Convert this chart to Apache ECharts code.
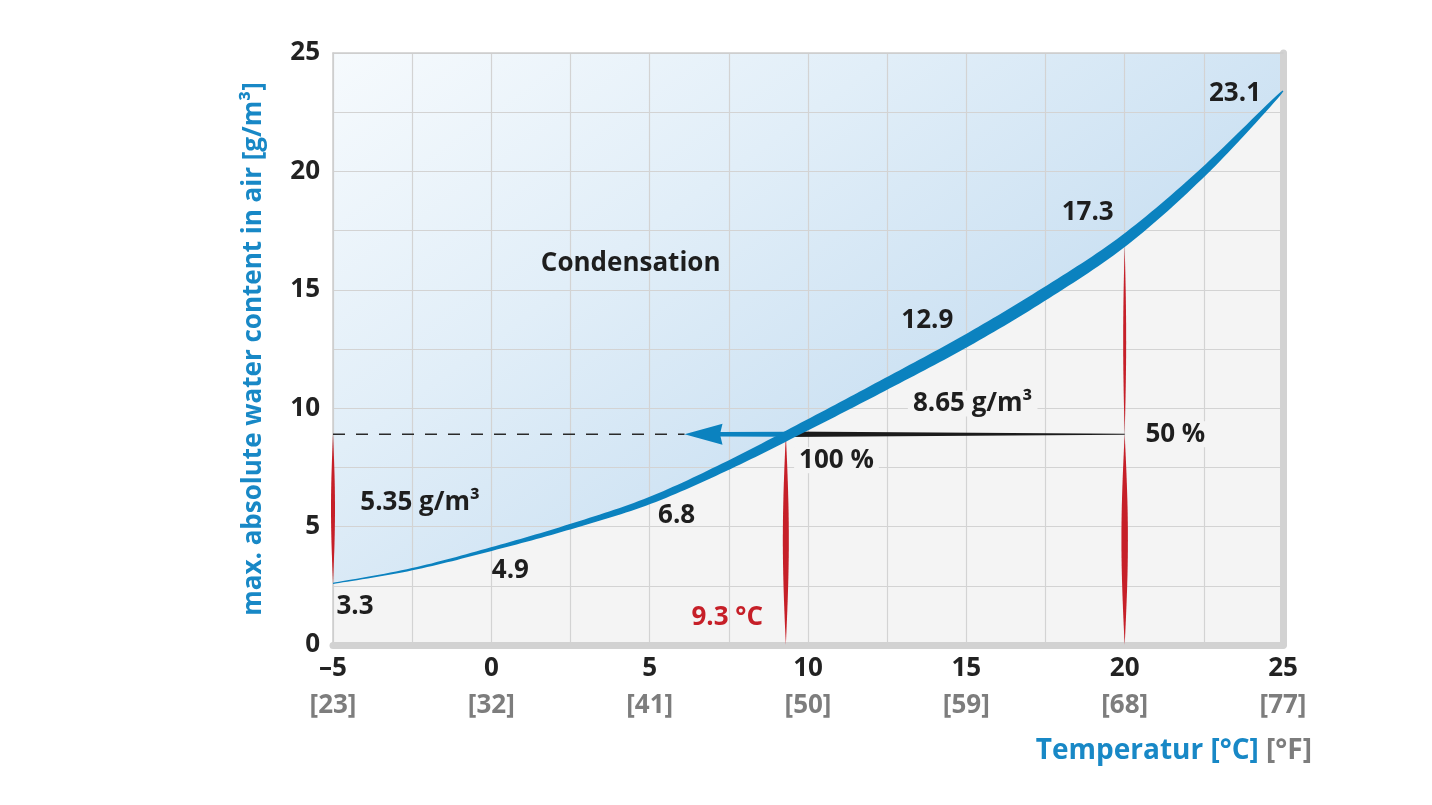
<!DOCTYPE html>
<html>
<head>
<meta charset="utf-8">
<script src="https://cdn.jsdelivr.net/npm/echarts@6/dist/echarts.min.js"></script>
<style>
  html, body { margin: 0; padding: 0; background: #fff; }
  #chart { width: 1432px; height: 805px; }
</style>
</head>
<body>
<div id="chart"></div>
<script>
// saturation curve, every 2.5 °C
const temps = [-5, -2.5, 0, 2.5, 5, 7.5, 10, 12.5, 15, 17.5, 20, 22.5, 25];
const maxWater = [2.6, 3.2, 4.05, 5.0, 6.1, 7.6, 9.3, 11.05, 12.85, 14.85, 17.1, 20.0, 23.4];

// values printed beside the curve
const markedTemps = [-5, 0, 5, 15, 20, 25];
const markedValues = ['3.3', '4.9', '6.8', '12.9', '17.3', '23.1'];

// worked example: air at 20 °C / 50 % cooled to its dew point
const startTemp = 20;
const dewTemp = 9.3;
const waterLevel = 8.9;
const arrowTip = 6.1;

const celsiusTicks = [-5, 0, 5, 10, 15, 20, 25];
const fahrenheitTicks = [23, 32, 41, 50, 59, 68, 77];

// free text, anchored in chart units
const notes = [
  { text: 'Condensation', at: [4.4, 16.1] },
  { text: '5.35 g/m³', at: [-2.25, 6.0] },
  { text: '8.65 g/m³', at: [15.2, 10.2], box: true },
  { text: '100 %', at: [10.9, 7.8], box: true },
  { text: '50 %', at: [21.6, 8.9], box: true },
  { text: '9.3 °C', at: [7.45, 1.15], red: true }
];

const FONT = '"Open Sans", "Noto Sans", sans-serif';
const BLUE = '#0b82bf';
const RED = '#c61f28';
const INK = '#1e1e1e';
const GRAY_BG = '#f4f4f4';

// catmull-rom through the read points, in pixels
function curvePixels(api) {
  const p = temps.map((t, i) => api.coord([t, maxWater[i]]));
  const out = [];
  for (let i = 0; i < p.length - 1; i++) {
    const p0 = p[Math.max(i - 1, 0)], p1 = p[i], p2 = p[i + 1], p3 = p[Math.min(i + 2, p.length - 1)];
    for (let s = 0; s < 16; s++) {
      const t = s / 16, t2 = t * t, t3 = t2 * t;
      out.push([0, 1].map(k => 0.5 * (2 * p1[k] + (-p0[k] + p2[k]) * t +
        (2 * p0[k] - 5 * p1[k] + 4 * p2[k] - p3[k]) * t2 +
        (-p0[k] + 3 * p1[k] - 3 * p2[k] + p3[k]) * t3)));
    }
  }
  out.push(p[p.length - 1]);
  return out;
}

function valueAt(t) {
  return maxWater[temps.indexOf(t)];
}

function spindle(x, ya, yb, wm) {
  const left = [], right = [];
  for (let i = 0; i <= 24; i++) {
    const f = i / 24;
    const y = ya + (yb - ya) * f;
    const w = wm / 2 * Math.sin(Math.PI * f);
    left.push([x - w, y]);
    right.push([x + w, y]);
  }
  return { type: 'polygon', shape: { points: left.concat(right.reverse()) }, style: { fill: RED } };
}

function renderFills(params, api) {
  const r = params.coordSys;
  const pts = curvePixels(api);
  const first = pts[0], last = pts[pts.length - 1];
  const below = pts.concat([[last[0], r.y + r.height], [first[0], r.y + r.height]]);
  const above = pts.concat([[last[0], r.y], [first[0], r.y]]);
  return {
    type: 'group',
    children: [
      { type: 'polygon', shape: { points: below }, style: { fill: GRAY_BG } },
      {
        type: 'polygon', shape: { points: above },
        style: {
          fill: new echarts.graphic.LinearGradient(0, 0, 0.4, 1, [
            { offset: 0, color: '#f6fafd' },
            { offset: 0.5, color: '#e1eef8' },
            { offset: 1, color: '#cae0f2' }
          ])
        }
      }
    ]
  };
}

function renderMarks(params, api) {
  const pts = curvePixels(api);
  const x0 = pts[0][0], x1 = pts[pts.length - 1][0];
  const upper = [], lower = [];
  pts.forEach((pt, i) => {
    const a = pts[Math.max(i - 1, 0)], b = pts[Math.min(i + 1, pts.length - 1)];
    const dx = b[0] - a[0], dy = b[1] - a[1];
    const len = Math.hypot(dx, dy) || 1;
    const nx = -dy / len, ny = dx / len;
    const f = (pt[0] - x0) / (x1 - x0);
    const w = (1.2 + 11 * Math.pow(Math.max(0, Math.sin(Math.PI * f * f)), 0.6)) / 2;
    upper.push([pt[0] + nx * w, pt[1] + ny * w]);
    lower.push([pt[0] - nx * w, pt[1] - ny * w]);
  });

  const dew = api.coord([dewTemp, waterLevel]);
  const start = api.coord([startTemp, waterLevel]);
  const tip = api.coord([arrowTip, waterLevel]);
  const leftEdge = api.coord([-5, waterLevel]);
  const ly = dew[1];
  const zeroY = api.coord([0, 0])[1];
  const cold = api.coord([-5, valueAt(-5)]);
  const warm = api.coord([startTemp, valueAt(startTemp)]);

  const children = [
    spindle(cold[0], cold[1], ly, 4),
    spindle(dew[0], ly, zeroY, 6),
    spindle(start[0], warm[1] + 6, ly, 3),
    spindle(start[0], ly, zeroY, 6.5),
    {
      type: 'line',
      shape: { x1: leftEdge[0], y1: ly, x2: tip[0], y2: ly },
      style: { stroke: '#2a2a2a', lineWidth: 1.7, lineDash: [12, 11] }
    },
    {
      type: 'polygon',
      shape: { points: [[dew[0], ly - 2.8], [start[0], ly - 0.6], [start[0], ly + 0.6], [dew[0], ly + 2.8]] },
      style: { fill: '#1b1b1b' }
    },
    {
      type: 'polygon',
      shape: { points: [[dew[0], ly - 2.6], [tip[0] + 36, ly - 2.2], [tip[0] + 38, ly - 10.5], [tip[0], ly],
        [tip[0] + 38, ly + 10.5], [tip[0] + 36, ly + 2.2], [dew[0], ly + 2.6]] },
      style: { fill: BLUE }
    },
    { type: 'polygon', shape: { points: upper.concat(lower.reverse()) }, style: { fill: BLUE } }
  ];

  // value labels along the curve (pixel offsets are layout only)
  const offsets = [[22, 23], [19, 21], [27, 15], [-39, -20], [-37, -27], [-48, 3]];
  markedTemps.forEach((t, i) => {
    const p = api.coord([t, valueAt(t)]);
    children.push({
      type: 'text', x: p[0] + offsets[i][0], y: p[1] + offsets[i][1],
      style: { text: markedValues[i], fill: INK, font: 'bold 26px ' + FONT, align: 'center', verticalAlign: 'middle' }
    });
  });

  notes.forEach(n => {
    const p = api.coord(n.at);
    children.push({
      type: 'text', x: p[0], y: p[1],
      style: {
        text: n.text, fill: n.red ? RED : INK, font: 'bold 26px ' + FONT,
        align: 'center', verticalAlign: 'middle',
        backgroundColor: n.box ? GRAY_BG : 'transparent', padding: n.box ? [0, 5] : 0
      }
    });
  });

  return { type: 'group', children };
}

function xLabel(v) {
  const i = celsiusTicks.indexOf(v);
  if (i < 0) return '';
  return '{c|' + String(v).replace('-', '–') + '}\n{f|[' + fahrenheitTicks[i] + ']}';
}

const chart = echarts.init(document.getElementById('chart'));
chart.setOption({
  animation: false,
  grid: { left: 333, right: 149, top: 53, bottom: 160 },
  xAxis: [
    {
      type: 'value', min: -5, max: 25, interval: 2.5, z: 2,
      axisLine: { show: true, onZero: false, lineStyle: { color: '#d2d2d2', width: 7 } },
      axisTick: { show: false },
      splitLine: { show: true, lineStyle: { color: '#d3d3d3', width: 1.2 } },
      axisLabel: {
        margin: 5, formatter: xLabel,
        rich: {
          c: { fontSize: 26, fontWeight: 'bold', color: '#222', fontFamily: FONT, lineHeight: 37 },
          f: { fontSize: 26, fontWeight: 'bold', color: '#7d7d7d', fontFamily: FONT, lineHeight: 37 }
        }
      }
    },
    {
      type: 'value', position: 'top', min: -5, max: 25, z: 2,
      axisLine: { show: true, onZero: false, lineStyle: { color: '#cdcdcd', width: 1.5 } },
      axisTick: { show: false }, axisLabel: { show: false }, splitLine: { show: false }
    }
  ],
  yAxis: [
    {
      type: 'value', min: 0, max: 25, interval: 2.5, z: 2,
      name: 'max. absolute water content in air [g/m³]',
      nameLocation: 'middle', nameGap: 66,
      nameTextStyle: { fontSize: 26, fontWeight: 'bold', color: '#1888c6', fontFamily: FONT },
      axisLine: { show: true, onZero: false, lineStyle: { color: '#cdcdcd', width: 1.5 } },
      axisTick: { show: false },
      splitLine: { show: true, lineStyle: { color: '#d3d3d3', width: 1.2 } },
      axisLabel: {
        margin: 13, fontSize: 26, fontWeight: 'bold', color: '#222', fontFamily: FONT,
        formatter: v => (v % 5 === 0 ? String(v) : '')
      }
    },
    {
      type: 'value', position: 'right', min: 0, max: 25, z: 2,
      axisLine: { show: true, onZero: false, lineStyle: { color: '#d2d2d2', width: 7 } },
      axisTick: { show: false }, axisLabel: { show: false }, splitLine: { show: false }
    }
  ],
  graphic: [
    {
      type: 'text', right: 120, top: 737, z: 10,
      style: {
        text: '{b|Temperatur [°C] }{g|[°F]}',
        rich: {
          b: { fontSize: 28, fontWeight: 'bold', fill: '#1888c6', fontFamily: FONT },
          g: { fontSize: 28, fontWeight: 'bold', fill: '#7d7d7d', fontFamily: FONT }
        }
      }
    }
  ],
  series: [
    { type: 'custom', z: 1, silent: true, renderItem: renderFills, data: [[0, 0]] },
    { type: 'custom', z: 3, silent: true, renderItem: renderMarks, data: [[0, 0]] }
  ]
});
</script>
</body>
</html>
